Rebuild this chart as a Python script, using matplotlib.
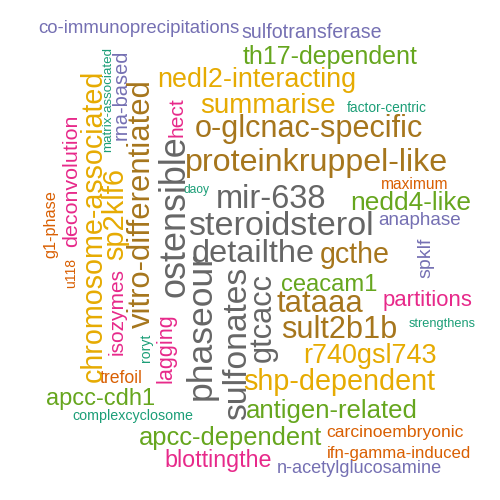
import matplotlib
matplotlib.use("Agg")
import matplotlib.pyplot as plt

# woorden, frequentie (≈ grootte) en frequentieklasse (1 = laag .. 8 = hoog)
words = [
    "co-immunoprecipitations", "sulfotransferase", "th17-dependent", "nedl2-interacting",
    "summarise", "factor-centric", "o-glcnac-specific", "proteinkruppel-like", "daoy",
    "mir-638", "steroidsterol", "detailthe", "gcthe", "maximum", "nedd4-like", "anaphase",
    "ceacam1", "tataaa", "partitions", "sult2b1b", "strengthens", "r740gsl743",
    "shp-dependent", "antigen-related", "apcc-cdh1", "complexcyclosome", "apcc-dependent",
    "carcinoembryonic", "blottingthe", "ifn-gamma-induced", "n-acetylglucosamine", "trefoil",
    "hect", "rna-based", "matrix-associated", "chromosome-associated", "sp2klf6",
    "deconvolution", "g1-phase", "u118", "vitro-differentiated", "ostensible", "phaseour",
    "sulfonates", "gtcacc", "isozymes", "lagging", "roryt", "spklf",
]
freq = [
    18.7, 19.7, 25, 26.9,
    27.8, 13.8, 30.6, 32.3, 12,
    32.7, 34.2, 32.5, 28.6, 15.5, 26.2, 18.9,
    23.7, 31, 22.2, 30.7, 12.8, 27,
    28.8, 25.8, 23.6, 14.2, 25.5,
    17.5, 23.2, 16.7, 18.2, 17.6,
    21, 20, 13.4, 28.6, 29,
    21.5, 16.3, 14, 31, 36, 35.5,
    33.6, 30.8, 20.9, 21.7, 14, 19.5,
]
klasse = [
    3, 3, 5, 6,
    6, 1, 7, 7, 1,
    8, 8, 8, 7, 2, 5, 3,
    5, 7, 4, 7, 1, 6,
    6, 5, 5, 1, 5,
    2, 4, 2, 3, 2,
    4, 3, 1, 6, 6,
    4, 2, 2, 7, 8, 8,
    8, 8, 4, 4, 1, 3,
]

# plaatsing in pixels (x, y van de basislijn-midden) en rotatie
pos_x = [
    138.5, 312, 330.5, 256.5,
    268, 387, 309, 317, 196,
    271.5, 281, 253.5, 355, 414.5, 410.5, 419.5,
    329, 320, 428, 339, 442.5, 370,
    339, 332, 100.5, 133, 230.5,
    394.5, 218.5, 398.5, 359, 121.5,
    183, 127, 111, 102, 123,
    77, 55, 75, 150, 185, 211,
    246, 271, 123, 171, 150, 430,
]
pos_y = [
    33, 38, 64, 87,
    113, 112, 137, 171, 193,
    208, 235, 262, 263, 189, 210, 225,
    291, 312, 306, 338, 327, 363,
    390, 418, 405, 420, 445,
    437, 467, 458, 473, 383,
    117, 95, 99.5, 226, 214,
    181, 224, 272.5, 204, 216.5, 326,
    343.5, 317.5, 311.5, 348, 348, 258,
]
rot = [0] * 32 + [90] * 17

dark2 = ["#1B9E77", "#D95F02", "#7570B3", "#E7298A",
         "#66A61E", "#E6AB02", "#A6761D", "#666666"]

fig = plt.figure(figsize=(5, 5), dpi=100)
ax = fig.add_axes([0, 0, 1, 1])
ax.set_xlim(0, 500)
ax.set_ylim(500, 0)
ax.axis("off")

for w, f, k, x, y, r in zip(words, freq, klasse, pos_x, pos_y, rot):
    ax.text(x, y, w, fontsize=f * 0.72, color=dark2[k - 1],
            family="Liberation Sans", rotation=r, rotation_mode="anchor",
            ha="center", va="baseline")

fig.savefig("out.png", dpi=100, facecolor="white")
